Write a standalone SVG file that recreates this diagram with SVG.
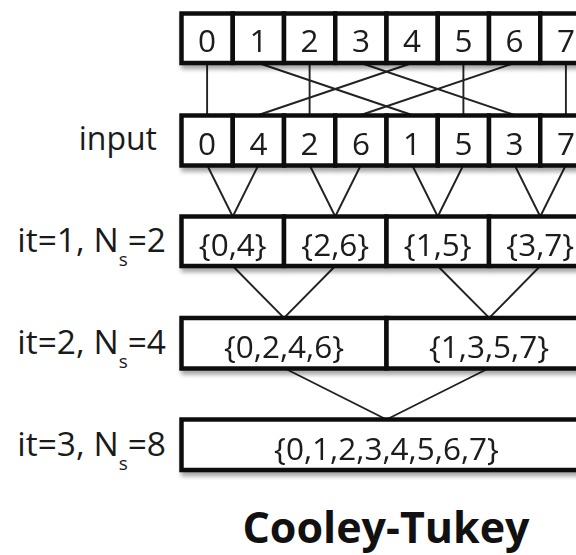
<svg xmlns="http://www.w3.org/2000/svg" width="576" height="555" viewBox="0 0 576 555">
<defs>
<filter id="sh" x="-10%" y="-20%" width="120%" height="160%">
<feDropShadow dx="2" dy="4" stdDeviation="2" flood-color="#000" flood-opacity="0.35"/>
</filter>
</defs>
<style>
.box{fill:#fff;stroke:#111;stroke-width:4.5}
.t{font-family:"Open Sans","Liberation Sans",sans-serif;font-size:31.5px;fill:#1a1a1a;text-anchor:middle}
.lab{font-family:"Open Sans","Liberation Sans",sans-serif;font-size:32px;fill:#1a1a1a;text-anchor:end}
.it{font-size:33.5px}
.sub{font-size:19px}
.con{stroke:#222;stroke-width:1.9;fill:none}
.title{font-family:"Open Sans","Liberation Sans",sans-serif;font-size:43px;font-weight:bold;fill:#111;text-anchor:middle}
</style>
<rect width="576" height="555" fill="#fff"/>
<g id="connectors" class="con">
<line x1="207.1" y1="63" x2="207.1" y2="115"/>
<line x1="258.4" y1="63" x2="412.1" y2="115"/>
<line x1="309.6" y1="63" x2="309.6" y2="115"/>
<line x1="360.9" y1="63" x2="514.6" y2="115"/>
<line x1="412.1" y1="63" x2="258.4" y2="115"/>
<line x1="463.4" y1="63" x2="463.4" y2="115"/>
<line x1="514.6" y1="63" x2="360.9" y2="115"/>
<line x1="565.9" y1="63" x2="565.9" y2="115"/>
<polyline points="207.1,165 232.75,216.5 258.4,165"/>
<polyline points="309.6,165 335.25,216.5 360.9,165"/>
<polyline points="412.1,165 437.75,216.5 463.4,165"/>
<polyline points="514.6,165 540.25,216.5 565.9,165"/>
<polyline points="232.75,266 284,318 335.25,266"/>
<polyline points="437.75,266 489.25,318 540.25,266"/>
<polyline points="284,368 386.5,419.5 489.25,368"/>
</g>
<g id="row0" filter="url(#sh)">
<g id="a0"><rect class="box" x="181.5" y="13.5" width="51.25" height="49.5"/><text class="t" x="207.1" y="52">0</text></g>
<g id="a1"><rect class="box" x="232.75" y="13.5" width="51.25" height="49.5"/><text class="t" x="258.4" y="52">1</text></g>
<g id="a2"><rect class="box" x="284" y="13.5" width="51.25" height="49.5"/><text class="t" x="309.6" y="52">2</text></g>
<g id="a3"><rect class="box" x="335.25" y="13.5" width="51.25" height="49.5"/><text class="t" x="360.9" y="52">3</text></g>
<g id="a4"><rect class="box" x="386.5" y="13.5" width="51.25" height="49.5"/><text class="t" x="412.1" y="52">4</text></g>
<g id="a5"><rect class="box" x="437.75" y="13.5" width="51.25" height="49.5"/><text class="t" x="463.4" y="52">5</text></g>
<g id="a6"><rect class="box" x="489" y="13.5" width="51.25" height="49.5"/><text class="t" x="514.6" y="52">6</text></g>
<g id="a7"><rect class="box" x="540.25" y="13.5" width="51.25" height="49.5"/><text class="t" x="565.9" y="52">7</text></g>
</g>
<g id="label-input"><text class="lab" x="157" y="150">input</text></g>
<g id="row1" filter="url(#sh)">
<g id="b0"><rect class="box" x="181.5" y="115.5" width="51.25" height="50"/><text class="t" x="207.1" y="155">0</text></g>
<g id="b1"><rect class="box" x="232.75" y="115.5" width="51.25" height="50"/><text class="t" x="258.4" y="155">4</text></g>
<g id="b2"><rect class="box" x="284" y="115.5" width="51.25" height="50"/><text class="t" x="309.6" y="155">2</text></g>
<g id="b3"><rect class="box" x="335.25" y="115.5" width="51.25" height="50"/><text class="t" x="360.9" y="155">6</text></g>
<g id="b4"><rect class="box" x="386.5" y="115.5" width="51.25" height="50"/><text class="t" x="412.1" y="155">1</text></g>
<g id="b5"><rect class="box" x="437.75" y="115.5" width="51.25" height="50"/><text class="t" x="463.4" y="155">5</text></g>
<g id="b6"><rect class="box" x="489" y="115.5" width="51.25" height="50"/><text class="t" x="514.6" y="155">3</text></g>
<g id="b7"><rect class="box" x="540.25" y="115.5" width="51.25" height="50"/><text class="t" x="565.9" y="155">7</text></g>
</g>
<g id="label-it1"><text class="lab it" x="166" y="252">it=1, N<tspan class="sub" dy="14">s</tspan><tspan dy="-14">=2</tspan></text></g>
<g id="row2" filter="url(#sh)">
<g id="c0"><rect class="box" x="181.5" y="216.5" width="102.5" height="49.5"/><text class="t" x="232.75" y="256">{0,4}</text></g>
<g id="c1"><rect class="box" x="284" y="216.5" width="102.5" height="49.5"/><text class="t" x="335.25" y="256">{2,6}</text></g>
<g id="c2"><rect class="box" x="386.5" y="216.5" width="102.5" height="49.5"/><text class="t" x="437.75" y="256">{1,5}</text></g>
<g id="c3"><rect class="box" x="489" y="216.5" width="102.5" height="49.5"/><text class="t" x="540.25" y="256">{3,7}</text></g>
</g>
<g id="label-it2"><text class="lab it" x="166" y="354">it=2, N<tspan class="sub" dy="14">s</tspan><tspan dy="-14">=4</tspan></text></g>
<g id="row3" filter="url(#sh)">
<g id="d0"><rect class="box" x="181.5" y="318" width="205" height="50.5"/><text class="t" x="284" y="358">{0,2,4,6}</text></g>
<g id="d1"><rect class="box" x="386.5" y="318" width="205" height="50.5"/><text class="t" x="489" y="358">{1,3,5,7}</text></g>
</g>
<g id="label-it3"><text class="lab it" x="166" y="456">it=3, N<tspan class="sub" dy="14">s</tspan><tspan dy="-14">=8</tspan></text></g>
<g id="row4" filter="url(#sh)">
<g id="e0"><rect class="box" x="181.5" y="419.5" width="410" height="50.5"/><text class="t" x="386.5" y="459.5">{0,1,2,3,4,5,6,7}</text></g>
</g>
<g id="title"><text class="title" x="386" y="543">Cooley-Tukey</text></g>
</svg>
